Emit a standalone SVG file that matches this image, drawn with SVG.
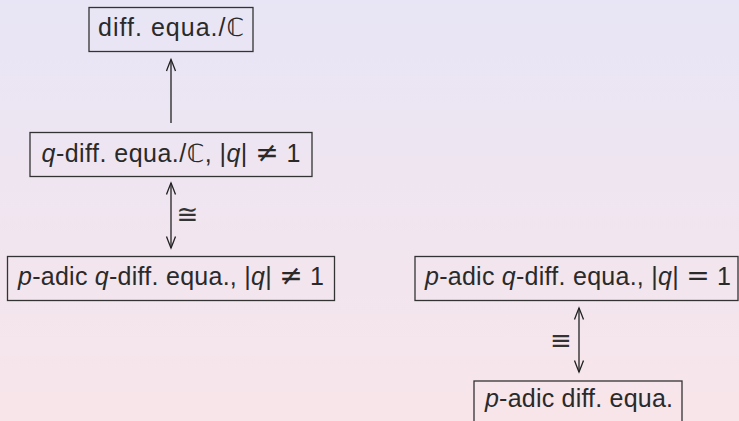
<svg xmlns="http://www.w3.org/2000/svg" width="739" height="421" viewBox="0 0 739 421">
<defs>
<linearGradient id="bg" x1="0" y1="0" x2="0" y2="1">
<stop offset="0" stop-color="#e8e5f6"/>
<stop offset="1" stop-color="#f8e5ea"/>
</linearGradient>
<style>
.box{fill:none;stroke:#333;stroke-width:1.3}
.t{font-family:"Liberation Sans","DejaVu Sans",sans-serif;font-size:25px;fill:#2a2a2a;text-anchor:middle}
.i{font-style:italic}
.s{font-family:"DejaVu Sans",sans-serif;font-size:28px}
.ln{stroke:#222;stroke-width:1.3;fill:none}
.lbl{font-family:"DejaVu Sans","Liberation Sans",sans-serif;font-size:26px;fill:#333;text-anchor:middle}
</style>
</defs>
<rect width="739" height="421" fill="url(#bg)"/>
<g id="n1">
<rect class="box" x="89" y="7.5" width="164" height="44"/>
<text class="t" x="171" y="36" textLength="146">diff. equa./ℂ</text>
</g>
<g id="n2">
<rect class="box" x="30" y="132.5" width="282" height="44"/>
<text class="t" x="171" y="162" textLength="259"><tspan class="i">q</tspan>-diff. equa./ℂ, |<tspan class="i">q</tspan>| <tspan class="s">≠</tspan> 1</text>
</g>
<g id="n3">
<rect class="box" x="7.5" y="256.5" width="327" height="44"/>
<text class="t" x="171" y="285" textLength="306"><tspan class="i">p</tspan>-adic <tspan class="i">q</tspan>-diff. equa., |<tspan class="i">q</tspan>| <tspan class="s">≠</tspan> 1</text>
</g>
<g id="n4">
<rect class="box" x="415" y="256.5" width="323" height="44"/>
<text class="t" x="578" y="285" textLength="306"><tspan class="i">p</tspan>-adic <tspan class="i">q</tspan>-diff. equa., |<tspan class="i">q</tspan>| <tspan class="s">=</tspan> 1</text>
</g>
<g id="n5">
<rect class="box" x="474" y="381" width="208" height="44"/>
<text class="t" x="579" y="407" textLength="188"><tspan class="i">p</tspan>-adic diff. equa.</text>
</g>
<g id="connectors">
<line class="ln" x1="171" y1="123" x2="171" y2="59.5"/>
<path class="ln" d="M166.5,71 Q169.5,63 171,59.5 Q172.5,63 175.5,71"/>
<line class="ln" x1="171" y1="183" x2="171" y2="248"/>
<path class="ln" d="M166.5,194.5 Q169.5,186.5 171,183 Q172.5,186.5 175.5,194.5"/>
<path class="ln" d="M166.5,236.5 Q169.5,244.5 171,248 Q172.5,244.5 175.5,236.5"/>
<text class="lbl" x="187.5" y="223">≅</text>
<line class="ln" x1="579" y1="308" x2="579" y2="372"/>
<path class="ln" d="M574.5,319.5 Q577.5,311.5 579,308 Q580.5,311.5 583.5,319.5"/>
<path class="ln" d="M574.5,360.5 Q577.5,368.5 579,372 Q580.5,368.5 583.5,360.5"/>
<text class="lbl" x="561" y="349">≡</text>
</g>
</svg>
